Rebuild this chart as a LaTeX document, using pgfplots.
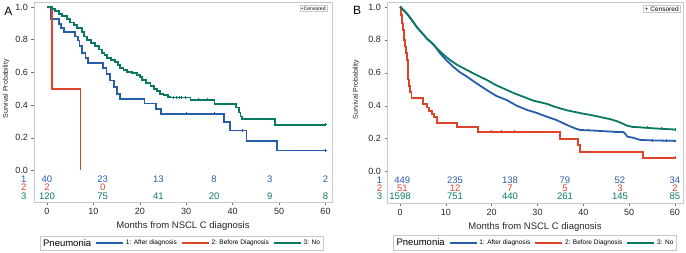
\documentclass[border=0pt]{standalone}
\usepackage{fontspec}
\setmainfont{Liberation Sans}
\usepackage{pgfplots}
\pgfplotsset{compat=1.18}
\definecolor{kmblue}{RGB}{38,94,172}
\definecolor{kmred}{RGB}{222,66,42}
\definecolor{kmgreen}{RGB}{8,122,100}
\definecolor{frame}{RGB}{200,200,200}
\pgfplotsset{
 km/.style={line width=1.8pt, mark=none},
 cens/.style={only marks, mark=+, mark size=1.3pt, line width=0.45pt, forget plot},
 kmaxis/.style={
  scale only axis, clip=false,
  xtick={0,10,...,60}, ytick={0,0.2,0.4,0.6,0.8,1.0},
  yticklabel style={/pgf/number format/fixed,/pgf/number format/fixed zerofill,/pgf/number format/precision=1},
  /pgf/number format/assume math mode=true,
  tick label style={font=\fontsize{9}{10}\selectfont, text=black!85},
  xlabel={Months from NSCL C diagnosis},
  xlabel style={font=\fontsize{9.5}{11}\selectfont, text=black!85},
  axis line style={frame, line width=0.6pt},
  tick align=outside, tick pos=left, major tick length=2.5pt,
  every tick/.style={black!55, line width=0.5pt},
  legend columns=-1,
  legend image code/.code={\draw[#1, line width=1.8pt] (0pt,0pt) -- (27pt,0pt);},
  legend style={draw=frame, font=\fontsize{6.5}{7}\selectfont, anchor=south, inner sep=1pt,
    /tikz/every even column/.append style={column sep=2pt}},
 }
}
\newcommand{\rk}{\fontsize{9.5}{10}\selectfont}
\begin{document}
\begin{tikzpicture}
\path[use as bounding box] (0pt,0pt) rectangle (686pt,252pt);
\node[font=\fontsize{12}{12}\selectfont] at (8.3pt,241pt) {A};
\node[font=\fontsize{12}{12}\selectfont] at (357pt,242pt) {B};
% ---------------- Panel A ----------------
\begin{axis}[kmaxis, at={(34pt,50pt)}, anchor=south west, width=298pt, height=200pt,
  xmin=-2.8, xmax=61.4, ymin=-0.193, ymax=1.031,
  legend style={at={(0.495,-0.2435)}}]
\addlegendimage{empty legend}\addlegendentry{\fontsize{9.5}{10}\selectfont Pneumonia}
\addplot[km, kmblue, const plot] coordinates {
(0,1.0) (0.9,0.925) (2.5,0.895) (3.0,0.87) (3.6,0.846) (6.1,0.82) (6.6,0.795) (7.0,0.76)
(7.6,0.72) (8.3,0.69) (8.9,0.657) (12.1,0.627) (12.8,0.59) (13.6,0.55) (14.4,0.51) (15.0,0.47)
(15.8,0.437) (21.0,0.41) (23.5,0.375) (24.6,0.347) (38.2,0.296) (39.4,0.245) (43.0,0.182)
(49.6,0.122) (60,0.122)};
\addlegendentry{1: After diagnosis}
\addplot[km, kmred, const plot] coordinates {(0,1.0) (1.1,0.5) (7.2,0.0)};
\addlegendentry{2: Before Diagnosis}
\addplot[km, kmgreen, const plot] coordinates {
(0,1.0) (1.2,0.99) (1.8,0.975) (2.5,0.96) (3.3,0.945) (4.3,0.925) (5.0,0.905) (5.8,0.89)
(6.5,0.87) (7.5,0.845) (8.0,0.82) (8.6,0.80) (9.5,0.78) (10.4,0.76) (11.2,0.74) (11.9,0.72)
(12.4,0.705) (12.9,0.688) (13.8,0.675) (14.7,0.665) (15.3,0.645) (15.8,0.627) (16.5,0.615)
(17.2,0.605) (18.3,0.595) (19.4,0.586) (20.0,0.57) (20.5,0.555) (21.4,0.535) (22.3,0.515)
(23.0,0.50) (23.7,0.484) (24.4,0.47) (25.1,0.46) (26.0,0.452) (26.6,0.447) (30.9,0.433)
(36.1,0.406) (40.8,0.385) (41.3,0.355) (41.7,0.33) (42.0,0.315) (49.2,0.28) (60,0.28)};
\addlegendentry{3: No}
\addplot[cens, kmgreen] coordinates {(0.3,1.0) (0.7,1.0) (27.2,0.447) (27.8,0.447) (28.4,0.447) (29.0,0.447) (29.7,0.447) (32.5,0.433) (34.5,0.433) (37.5,0.406) (39,0.406) (45,0.315) (60,0.28)};
\addplot[cens, kmblue] coordinates {(30,0.347) (36,0.347) (42,0.245) (60,0.122)};
\node[rotate=90, font=\fontsize{7}{8}\selectfont, text=black!85] at (axis cs:-8.8,0.5) {Survival Probability};
\node[draw=frame, fill=white, anchor=north east, font=\fontsize{5}{6}\selectfont, inner sep=1.2pt] at (rel axis cs:0.983,0.985) {+Censored};
\node[kmblue, font=\rk] at (axis cs:-5.0,-0.055) {1};
\node[kmred, font=\rk] at (axis cs:-5.0,-0.105) {2};
\node[kmgreen, font=\rk] at (axis cs:-5.0,-0.155) {3};
\node[kmblue,font=\rk] at (axis cs:0,-0.055) {40};
\node[kmblue,font=\rk] at (axis cs:12,-0.055) {23};
\node[kmblue,font=\rk] at (axis cs:24,-0.055) {13};
\node[kmblue,font=\rk] at (axis cs:36,-0.055) {8};
\node[kmblue,font=\rk] at (axis cs:48,-0.055) {3};
\node[kmblue,font=\rk] at (axis cs:60,-0.055) {2};
\node[kmred,font=\rk] at (axis cs:0,-0.105) {2};
\node[kmred,font=\rk] at (axis cs:12,-0.105) {0};
\node[kmgreen,font=\rk] at (axis cs:0,-0.155) {120};
\node[kmgreen,font=\rk] at (axis cs:12,-0.155) {75};
\node[kmgreen,font=\rk] at (axis cs:24,-0.155) {41};
\node[kmgreen,font=\rk] at (axis cs:36,-0.155) {20};
\node[kmgreen,font=\rk] at (axis cs:48,-0.155) {9};
\node[kmgreen,font=\rk] at (axis cs:60,-0.155) {8};
\end{axis}
% ---------------- Panel B ----------------
\begin{axis}[kmaxis, at={(387pt,49pt)}, anchor=south west, width=296pt, height=201pt,
  xmin=-2.84, xmax=61.75, ymin=-0.19, ymax=1.03,
  legend style={at={(0.5,-0.234)}}]
\addlegendimage{empty legend}\addlegendentry{\fontsize{9.5}{10}\selectfont Pneumonia}
\addplot[km, kmblue] coordinates {
(0,1.0) (1.5,0.96) (3.6,0.88) (5.8,0.81) (7.5,0.765) (8.7,0.72) (10,0.68) (11.6,0.637)
(13,0.605) (14.6,0.577) (16.5,0.54) (18.9,0.496) (21,0.46) (23.3,0.435) (25.5,0.40)
(27.7,0.375) (30,0.355) (32,0.334) (34,0.315) (36.4,0.284) (38,0.265) (39.3,0.253)
(42,0.25) (45,0.245) (48.8,0.24) (49.3,0.225) (49.6,0.213) (51,0.205) (52.4,0.193)
(55,0.19) (60,0.187)};
\addlegendentry{1: After diagnosis}
\addplot[km, kmred, const plot] coordinates {
(0,1.0) (0.3,0.95) (0.5,0.90) (0.7,0.86) (0.9,0.80) (1.1,0.76) (1.3,0.72) (1.5,0.68)
(1.7,0.62) (1.8,0.56) (2.0,0.52) (2.2,0.486) (2.5,0.446) (5.1,0.41) (5.9,0.39) (6.4,0.37)
(6.9,0.35) (7.4,0.33) (8.0,0.294) (12.4,0.273) (17.1,0.243) (34.9,0.197) (38.9,0.162)
(39.3,0.121) (53.1,0.085) (60,0.085)};
\addlegendentry{2: Before Diagnosis}
\addplot[km, kmgreen] coordinates {
(0,1.0) (0.5,0.99) (1.5,0.96) (2.5,0.925) (3.6,0.88) (4.7,0.845) (5.8,0.81) (7,0.78)
(8.0,0.75) (9.5,0.71) (10.9,0.678) (12.5,0.648) (14.6,0.617) (16.5,0.59) (18.9,0.557)
(21,0.525) (23.3,0.496) (25,0.475) (26.9,0.455) (29,0.432) (32,0.412) (34,0.392)
(36.5,0.372) (40,0.352) (42,0.342) (44,0.33) (46,0.318) (47.5,0.305) (48.5,0.293)
(49.5,0.28) (50.5,0.273) (53,0.268) (56,0.262) (60,0.256)};
\addlegendentry{3: No}
\addplot[cens, kmred] coordinates {(20,0.243) (22,0.243) (25,0.243) (60,0.085)};
\addplot[cens, kmblue] coordinates {(41,0.252) (44,0.247) (47,0.242) (55,0.19) (58,0.188) (60,0.187)};
\addplot[cens, kmgreen] coordinates {(51,0.272) (54,0.267) (57,0.261) (60,0.256)};
\node[rotate=90, font=\fontsize{7}{8}\selectfont, text=black!85] at (axis cs:-9.6,0.5) {Survival Probability};
\node[draw=frame, fill=white, anchor=north east, font=\fontsize{6.5}{7}\selectfont, inner sep=1.2pt] at (rel axis cs:0.99,0.985) {+ Censored};
\node[kmblue, font=\rk] at (axis cs:-4.5,-0.05) {1};
\node[kmred, font=\rk] at (axis cs:-4.5,-0.10) {2};
\node[kmgreen, font=\rk] at (axis cs:-4.5,-0.15) {3};
\node[kmblue,font=\rk] at (axis cs:0.5,-0.05) {449};
\node[kmblue,font=\rk] at (axis cs:12,-0.05) {235};
\node[kmblue,font=\rk] at (axis cs:24,-0.05) {138};
\node[kmblue,font=\rk] at (axis cs:36,-0.05) {79};
\node[kmblue,font=\rk] at (axis cs:48,-0.05) {52};
\node[kmblue,font=\rk] at (axis cs:60,-0.05) {34};
\node[kmred,font=\rk] at (axis cs:0.5,-0.10) {51};
\node[kmred,font=\rk] at (axis cs:12,-0.10) {12};
\node[kmred,font=\rk] at (axis cs:24,-0.10) {7};
\node[kmred,font=\rk] at (axis cs:36,-0.10) {5};
\node[kmred,font=\rk] at (axis cs:48,-0.10) {3};
\node[kmred,font=\rk] at (axis cs:60,-0.10) {2};
\node[kmgreen,font=\rk] at (axis cs:0,-0.15) {1598};
\node[kmgreen,font=\rk] at (axis cs:12,-0.15) {751};
\node[kmgreen,font=\rk] at (axis cs:24,-0.15) {440};
\node[kmgreen,font=\rk] at (axis cs:36,-0.15) {261};
\node[kmgreen,font=\rk] at (axis cs:48,-0.15) {145};
\node[kmgreen,font=\rk] at (axis cs:60,-0.15) {85};
\end{axis}
\end{tikzpicture}
\end{document}
